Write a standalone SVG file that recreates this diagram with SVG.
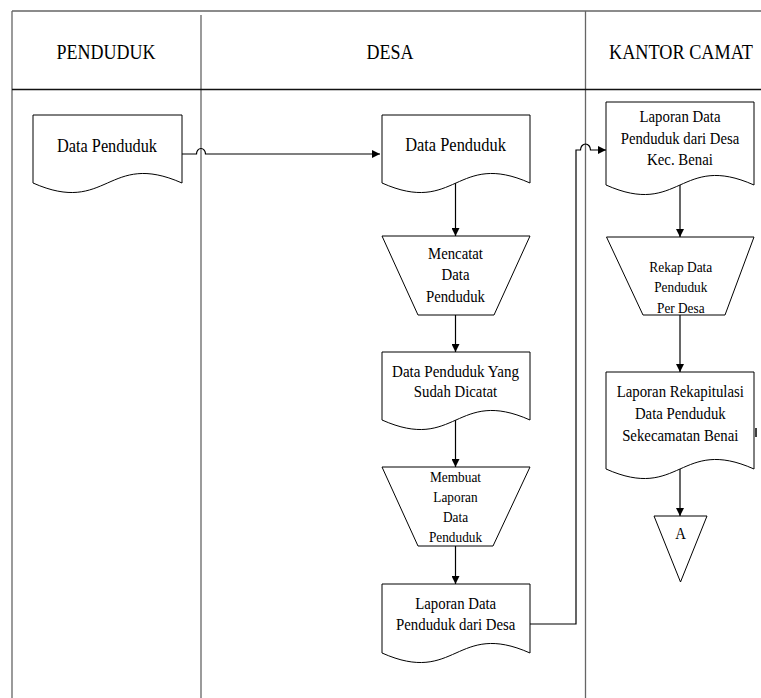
<svg xmlns="http://www.w3.org/2000/svg" width="761" height="698" viewBox="0 0 761 698">
<style>
text{font-family:"Liberation Serif","Times New Roman",Times,serif;fill:#000;text-anchor:middle}
.h{font-size:18px}
.b{font-size:16.4px}
.m{font-size:14.8px}
.s{font-size:13.3px}
.shape{fill:#fff;stroke:#000;stroke-width:1}
.conn{fill:none;stroke:#000;stroke-width:1.2}
.lane{fill:none;stroke:#666;stroke-width:1.3}
</style>
<defs>
<marker id="arr" markerWidth="9" markerHeight="8" refX="8" refY="4" orient="auto" markerUnits="userSpaceOnUse">
<path d="M0,0 L8,4 L0,8 Z" fill="#000"/>
</marker>
</defs>
<rect width="761" height="698" fill="#fff"/>
<g id="lanes">
<path class="lane" d="M12,11 H761 M12,11 V698 M201,15 V698 M585.5,11 V698"/>
<path d="M12,89.5 H761" stroke="#111" stroke-width="1.3" fill="none"/>
<text class="h" x="106" y="59.5" textLength="99" lengthAdjust="spacingAndGlyphs" transform="matrix(1,0,0,1.15,0,-8.925)">PENDUDUK</text>
<text class="h" x="390" y="59.5" textLength="47" lengthAdjust="spacingAndGlyphs" transform="matrix(1,0,0,1.15,0,-8.925)">DESA</text>
<text class="h" x="681" y="59.5" textLength="144" lengthAdjust="spacingAndGlyphs" transform="matrix(1,0,0,1.15,0,-8.925)">KANTOR CAMAT</text>
</g>
<g id="connectors">
<path class="conn" d="M182,154 H196.5 A4.5,5.5 0 0 1 205.5,154 H380" marker-end="url(#arr)"/>
<path class="conn" d="M455.5,183 V236" marker-end="url(#arr)"/>
<path class="conn" d="M455.5,315 V352" marker-end="url(#arr)"/>
<path class="conn" d="M455.5,420 V467" marker-end="url(#arr)"/>
<path class="conn" d="M455.5,546 V584" marker-end="url(#arr)"/>
<path class="conn" d="M530,624 H576 V150 H580.5 A5,6 0 0 1 590.5,150 H606" marker-end="url(#arr)"/>
<path class="conn" d="M680,185 V237" marker-end="url(#arr)"/>
<path class="conn" d="M680,315 V372" marker-end="url(#arr)"/>
<path class="conn" d="M680,469 V516" marker-end="url(#arr)"/>
</g>
<g id="penduduk-data">
<path class="shape" d="M33,115 H182 V183 C107.5,150 107.5,216 33,183 Z"/>
<text class="b" x="107" y="151.7" textLength="100" lengthAdjust="spacingAndGlyphs" transform="matrix(1,0,0,1.15,0,-22.755)">Data Penduduk</text>
</g>
<g id="desa-data">
<path class="shape" d="M382,115 H530 V183 C456,150 456,216 382,183 Z"/>
<text class="b" x="455.5" y="150.7" textLength="100.7" lengthAdjust="spacingAndGlyphs" transform="matrix(1,0,0,1.15,0,-22.605)">Data Penduduk</text>
</g>
<g id="desa-mencatat">
<path class="shape" d="M382,236 H530 L494,315 H418 Z"/>
<text class="m" x="455.5" y="259" textLength="55" lengthAdjust="spacingAndGlyphs" transform="matrix(1,0,0,1.15,0,-38.85)">Mencatat</text>
<text class="m" x="455.5" y="280" textLength="28" lengthAdjust="spacingAndGlyphs" transform="matrix(1,0,0,1.15,0,-42)">Data</text>
<text class="m" x="455.5" y="302" textLength="59" lengthAdjust="spacingAndGlyphs" transform="matrix(1,0,0,1.15,0,-45.3)">Penduduk</text>
</g>
<g id="desa-dicatat">
<path class="shape" d="M382,352 H530 V420 C456,387 456,453 382,420 Z"/>
<text class="m" x="455.5" y="376.7" textLength="127" lengthAdjust="spacingAndGlyphs" transform="matrix(1,0,0,1.15,0,-56.505)">Data Penduduk Yang</text>
<text class="m" x="455.5" y="397.3" textLength="83.4" lengthAdjust="spacingAndGlyphs" transform="matrix(1,0,0,1.15,0,-59.595)">Sudah Dicatat</text>
</g>
<g id="desa-membuat">
<path class="shape" d="M382,467 H530 L493,546 H418 Z"/>
<text class="s" x="455.5" y="481.7" textLength="51" lengthAdjust="spacingAndGlyphs" transform="matrix(1,0,0,1.15,0,-72.255)">Membuat</text>
<text class="s" x="455.5" y="501.7" textLength="44.3" lengthAdjust="spacingAndGlyphs" transform="matrix(1,0,0,1.15,0,-75.255)">Laporan</text>
<text class="s" x="455.5" y="521.7" textLength="25.1" lengthAdjust="spacingAndGlyphs" transform="matrix(1,0,0,1.15,0,-78.255)">Data</text>
<text class="s" x="455.5" y="541.7" textLength="53.2" lengthAdjust="spacingAndGlyphs" transform="matrix(1,0,0,1.15,0,-81.255)">Penduduk</text>
</g>
<g id="desa-laporan">
<path class="shape" d="M382,584 H530 V653 C456,620 456,686 382,653 Z"/>
<text class="m" x="455.7" y="609" textLength="81" lengthAdjust="spacingAndGlyphs" transform="matrix(1,0,0,1.15,0,-91.35)">Laporan Data</text>
<text class="m" x="455.7" y="630" textLength="119.3" lengthAdjust="spacingAndGlyphs" transform="matrix(1,0,0,1.15,0,-94.5)">Penduduk dari Desa</text>
</g>
<g id="camat-laporan">
<path class="shape" d="M606,102 H754 V185 C680,152 680,218 606,185 Z"/>
<text class="m" x="680" y="121.7" textLength="81" lengthAdjust="spacingAndGlyphs" transform="matrix(1,0,0,1.15,0,-18.255)">Laporan Data</text>
<text class="m" x="680" y="144" textLength="118.5" lengthAdjust="spacingAndGlyphs" transform="matrix(1,0,0,1.15,0,-21.6)">Penduduk dari Desa</text>
<text class="m" x="680" y="165" textLength="65.8" lengthAdjust="spacingAndGlyphs" transform="matrix(1,0,0,1.15,0,-24.75)">Kec. Benai</text>
</g>
<g id="camat-rekap">
<path class="shape" d="M606.5,237 H754 L725,315 H643 Z"/>
<text class="s" x="680.8" y="271.7" textLength="63" lengthAdjust="spacingAndGlyphs" transform="matrix(1,0,0,1.15,0,-40.755)">Rekap Data</text>
<text class="s" x="680.8" y="291.7" textLength="53.2" lengthAdjust="spacingAndGlyphs" transform="matrix(1,0,0,1.15,0,-43.755)">Penduduk</text>
<text class="s" x="680.8" y="312.7" textLength="47.6" lengthAdjust="spacingAndGlyphs" transform="matrix(1,0,0,1.15,0,-46.905)">Per Desa</text>
</g>
<g id="camat-rekapitulasi">
<path class="shape" d="M606,372 H754 V469 C680,436 680,502 606,469 Z"/>
<text class="m" x="680.3" y="397.3" textLength="127.3" lengthAdjust="spacingAndGlyphs" transform="matrix(1,0,0,1.15,0,-59.595)">Laporan Rekapitulasi</text>
<text class="m" x="680.3" y="419" textLength="90.8" lengthAdjust="spacingAndGlyphs" transform="matrix(1,0,0,1.15,0,-62.85)">Data Penduduk</text>
<text class="m" x="680.3" y="440.7" textLength="116.3" lengthAdjust="spacingAndGlyphs" transform="matrix(1,0,0,1.15,0,-66.105)">Sekecamatan Benai</text>
<path d="M756,428 V437" stroke="#000" stroke-width="1.5"/>
</g>
<g id="offpage-A">
<path class="shape" d="M654,516 H707 L680.5,582 Z"/>
<text class="m" x="680.5" y="539.3" transform="matrix(1,0,0,1.15,0,-80.895)">A</text>
</g>
</svg>
